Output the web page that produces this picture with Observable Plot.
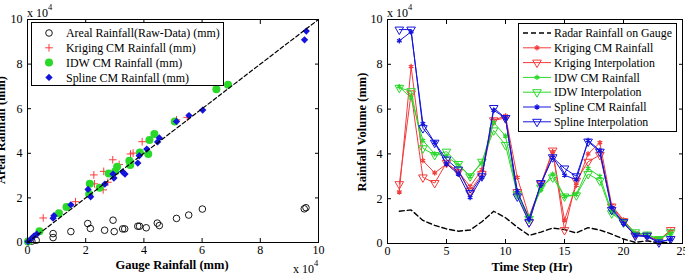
<!DOCTYPE html>
<html><head><meta charset="utf-8">
<script src="https://cdn.jsdelivr.net/npm/d3@7"></script>
<script src="https://cdn.jsdelivr.net/npm/@observablehq/plot@0.6"></script>
<style>
body{margin:0;background:#fff}
#wrap{position:relative;width:685px;height:273px;overflow:hidden;font-family:"Liberation Serif","Times New Roman",serif}
#wrap > svg{position:absolute;top:0;font-family:"Liberation Serif","Times New Roman",serif !important}
#wrap > svg text{font-family:"Liberation Serif","Times New Roman",serif}
</style></head>
<body><div id="wrap"></div>
<script>
// ---------- Left chart data (units of 1e4 mm) ----------
const gaugeTicks = [0, 2, 4, 6, 8, 10];
const arealTicks = [0, 2, 4, 6, 8, 10];
const diagonal = [0, 10];

const rawGauge = [0.02, 0.15, 0.3, 0.88, 0.88, 1.49, 2.07, 2.16, 2.65, 2.94, 2.98, 3.27, 3.34, 3.79, 3.85, 4.08, 4.46, 4.53, 5.12, 5.54, 6.01, 9.51, 9.57];
const rawAreal = [0.04, 0.06, 0.1, 0.22, 0.4, 0.49, 0.85, 0.63, 0.55, 1.0, 0.49, 0.61, 0.61, 0.73, 0.73, 0.66, 0.87, 0.76, 1.08, 1.23, 1.5, 1.51, 1.56];

const krigGauge = [0.02, 0.2, 0.54, 1.65, 2.28, 2.3, 2.6, 2.62, 2.76, 2.93, 3.15, 3.54, 3.63, 3.94, 5.12, 5.49];
const krigAreal = [0.03, 0.25, 1.1, 1.83, 3.03, 2.63, 2.36, 3.19, 2.7, 3.71, 3.5, 3.97, 4.01, 4.52, 5.5, 5.61];

const idwGauge = [0.02, 0.41, 1.08, 1.34, 2.12, 2.14, 2.48, 2.79, 3.02, 3.08, 3.5, 3.53, 3.86, 4.15, 4.19, 4.36, 5.06, 6.49, 6.89];
const idwAreal = [0.04, 0.5, 1.31, 1.59, 2.17, 2.63, 2.45, 3.09, 3.19, 3.4, 3.67, 3.47, 4.04, 3.97, 4.6, 4.86, 5.43, 6.87, 7.07];

const splGauge = [0.02, 0.14, 0.23, 0.32, 0.88, 0.91, 1.49, 2.08, 2.17, 2.66, 2.94, 2.97, 3.27, 3.35, 3.79, 3.84, 4.1, 4.47, 4.53, 5.12, 5.55, 6.02, 9.52, 9.58];
const splAreal = [0.04, 0.18, 0.3, 0.37, 1.09, 1.2, 1.69, 2.38, 2.05, 2.62, 3.07, 2.89, 3.17, 3.07, 3.56, 3.89, 4.19, 4.51, 4.69, 5.43, 5.69, 5.94, 9.09, 9.48];

// ---------- Right chart data (units of 1e4 mm) ----------
const hourTicks = [0, 5, 10, 15, 20, 25];
const volumeTicks = [0, 2, 4, 6, 8, 10];
const hours = [1,2,3,4,5,6,7,8,9,10,11,12,13,14,15,16,17,18,19,20,21,22,23,24];
const radar      = [1.44, 1.5, 1.03, 0.81, 0.65, 0.55, 0.6, 0.97, 1.44, 1.15, 0.73, 0.36, 0.51, 0.69, 0.62, 0.47, 0.71, 0.6, 0.42, 0.2, 0.05, 0.12, 0.03, 0.06];
const krigCM     = [2.3, 7.9, 3.7, 3.15, 3.55, 3.2, 2.55, 3.3, 5.5, 5.7, 2.95, 1.2, 2.6, 4.1, 1.05, 2.6, 4.0, 4.5, 1.7, 1.05, 0.45, 0.3, 0.15, 0.55];
const krigInterp = [2.65, 6.7, 2.95, 2.7, 3.6, 3.2, 2.35, 3.1, 5.5, 5.6, 2.3, 0.95, 2.65, 4.15, 0.6, 2.8, 3.65, 3.95, 1.65, 1.0, 0.4, 0.35, 0.15, 0.6];
const idwCM      = [7.0, 6.5, 4.6, 4.0, 3.9, 3.5, 3.0, 3.6, 5.4, 4.8, 2.2, 1.2, 2.4, 3.1, 2.1, 2.2, 3.35, 3.0, 1.4, 1.0, 0.45, 0.4, 0.2, 0.45];
const idwInterp  = [6.95, 6.8, 4.25, 3.95, 4.1, 3.55, 3.0, 3.65, 5.05, 4.4, 2.2, 1.1, 2.5, 2.95, 2.1, 2.15, 3.1, 2.8, 1.35, 0.95, 0.5, 0.4, 0.2, 0.5];
const splCM      = [9.05, 9.45, 5.35, 4.5, 3.55, 3.1, 2.05, 2.95, 5.95, 5.6, 2.35, 1.1, 2.65, 3.85, 3.05, 2.85, 4.6, 4.15, 1.6, 0.9, 0.35, 0.3, 0.05, 0.2];
const splInterp  = [9.55, 9.55, 5.15, 4.5, 3.75, 3.3, 2.25, 3.0, 6.05, 5.6, 2.1, 0.95, 2.7, 3.85, 3.35, 3.0, 4.55, 4.1, 1.5, 0.95, 0.35, 0.35, 0.05, 0.2];

const RED = "#f23c3c", GREEN = "#2ad82a", BLUE = "#1414dc";
const SERIF = "Liberation Serif, Times New Roman, serif";
const pts = (xs, ys) => xs.map((x, i) => ({x, y: ys[i]}));
const series = ys => hours.map((h, i) => ({x: h, y: ys[i]}));
const font = {fontFamily: SERIF, fontSize: "12px", background: "transparent", color: "black", overflow: "visible"};

function frameAxes(xt, yt) {
  const t = {fontFamily: SERIF, fontSize: 12, label: null};
  return [
    Plot.frame({stroke: "black", strokeWidth: 1}),
    Plot.axisX(xt, {anchor: "bottom", tickSize: -4, tickPadding: 7, ...t}),
    Plot.axisX(xt, {anchor: "top", tickSize: -4, tickFormat: () => "", ...t}),
    Plot.axisY(yt, {anchor: "left", tickSize: -4, tickPadding: 9, ...t}),
    Plot.axisY(yt, {anchor: "right", tickSize: -4, tickFormat: () => "", ...t})
  ];
}

const left = Plot.plot({
  width: 340, height: 273, marginLeft: 27, marginRight: 22, marginTop: 19, marginBottom: 31,
  style: font,
  x: {domain: [0, 10]}, y: {domain: [0, 10]},
  marks: [
    Plot.dot(pts(rawGauge, rawAreal), {x: "x", y: "y", r: 3.3, stroke: "black", strokeWidth: 0.9, fill: "none"}),
    Plot.dot(pts(krigGauge, krigAreal), {x: "x", y: "y", symbol: "plus", r: 2.6, stroke: "#ff3b3b", strokeWidth: 1}),
    Plot.dot(pts(idwGauge, idwAreal), {x: "x", y: "y", r: 4, fill: GREEN}),
    Plot.dot(pts(splGauge, splAreal), {x: "x", y: "y", symbol: "diamond2", r: 3.3, fill: BLUE}),
    Plot.line(pts(diagonal, diagonal), {x: "x", y: "y", stroke: "black", strokeWidth: 1.2, strokeDasharray: "4,2.5"}),
    ...frameAxes(gaugeTicks, arealTicks)
  ]
});
left.style.left = "0px";

const right = Plot.plot({
  width: 345, height: 273, marginLeft: 47, marginRight: 3, marginTop: 19, marginBottom: 30,
  style: font,
  x: {domain: [0, 25]}, y: {domain: [0, 10]},
  marks: [
    Plot.line(series(radar), {x: "x", y: "y", stroke: "black", strokeWidth: 1.4, strokeDasharray: "5,3", curve: "linear"}),
    Plot.line(series(krigCM), {x: "x", y: "y", stroke: RED, strokeWidth: 1}),
    Plot.dot(series(krigCM), {x: "x", y: "y", symbol: "asterisk", r: 2.5, stroke: RED, strokeWidth: 1.3}),
    Plot.line(series(krigInterp), {x: "x", y: "y", stroke: RED, strokeWidth: 1}),
    Plot.dot(series(krigInterp), {x: "x", y: "y", symbol: "triangle", rotate: 180, r: 3.2, stroke: RED, fill: "none", strokeWidth: 1}),
    Plot.line(series(idwCM), {x: "x", y: "y", stroke: GREEN, strokeWidth: 1}),
    Plot.dot(series(idwCM), {x: "x", y: "y", symbol: "asterisk", r: 2.5, stroke: GREEN, strokeWidth: 1.3}),
    Plot.line(series(idwInterp), {x: "x", y: "y", stroke: GREEN, strokeWidth: 1}),
    Plot.dot(series(idwInterp), {x: "x", y: "y", symbol: "triangle", rotate: 180, r: 3.2, stroke: GREEN, fill: "none", strokeWidth: 1}),
    Plot.line(series(splCM), {x: "x", y: "y", stroke: BLUE, strokeWidth: 1}),
    Plot.dot(series(splCM), {x: "x", y: "y", symbol: "asterisk", r: 2.5, stroke: BLUE, strokeWidth: 1.3}),
    Plot.line(series(splInterp), {x: "x", y: "y", stroke: BLUE, strokeWidth: 1}),
    Plot.dot(series(splInterp), {x: "x", y: "y", symbol: "triangle", rotate: 180, r: 3.2, stroke: BLUE, fill: "none", strokeWidth: 1}),
    ...frameAxes(hourTicks, volumeTicks)
  ]
});
right.style.left = "340px";

const wrap = document.getElementById("wrap");
wrap.appendChild(left);
wrap.appendChild(right);

// ---------- Overlay: legends, axis titles, exponents ----------
const ov = d3.select(wrap).append("svg")
  .attr("width", 685).attr("height", 273)
  .style("left", "0px").style("pointer-events", "none")
  .attr("font-family", SERIF)
  .attr("font-size", 12.5);

function exponent(x, y) {
  const t = ov.append("text").attr("x", x).attr("y", y).attr("font-size", 12);
  t.append("tspan").text("x 10");
  t.append("tspan").attr("dy", -7).attr("font-size", 8.5).text("4");
}
exponent(27, 17);
exponent(387, 17);
exponent(293, 273);

function title(text, x, y, rot) {
  ov.append("text").attr("transform", `translate(${x},${y}) rotate(${rot})`)
    .attr("text-anchor", "middle").attr("dy", "0.35em")
    .attr("font-weight", "bold").text(text);
}
title("Gauge Rainfall (mm)", 172, 265, 0);
title("Time Step (Hr)", 532, 267, 0);
title("Rainfall Volume (mm)", 362, 132, -90);
title("Areal Rainfall (mm)", 1, 130, -90);

const sym = (type, r) => d3.symbol(type, Math.PI * r * r)();

// font size so that the longest label spans the given width
function fitSize(label, width) {
  const t = ov.append("text").attr("font-size", 20).text(label);
  const w = t.node().getComputedTextLength();
  t.remove();
  return Math.min(14, 20 * width / w);
}

// left legend
const leftItems = [
  {label: "Areal Rainfall(Raw-Data) (mm)", draw: g => g.append("circle").attr("r", 3.3).attr("fill", "none").attr("stroke", "black").attr("stroke-width", 0.9)},
  {label: "Kriging CM Rainfall (mm)", draw: g => g.append("path").attr("d", sym(d3.symbolPlus, 2.6)).attr("fill", "none").attr("stroke", "#ff3b3b")},
  {label: "IDW CM Rainfall (mm)", draw: g => g.append("circle").attr("r", 4).attr("fill", GREEN)},
  {label: "Spline CM Rainfall (mm)", draw: g => g.append("path").attr("d", sym(d3.symbolDiamond2, 3.3)).attr("fill", BLUE)}
];
const leftFs = fitSize(leftItems[0].label, 154);
ov.append("rect").attr("x", 31.5).attr("y", 22.5).attr("width", 192).attr("height", 63)
  .attr("fill", "white").attr("stroke", "black");
leftItems.forEach((it, i) => {
  const y = 33 + i * 14.8;
  it.draw(ov.append("g").attr("transform", `translate(49,${y})`));
  ov.append("text").attr("x", 66).attr("y", y).attr("dy", "0.35em").attr("font-size", leftFs).text(it.label);
});

// right legend
const rightItems = [
  {label: "Radar Rainfall on Gauge", color: "black", dash: "5,3", mark: null},
  {label: "Kriging CM Rainfall", color: RED, mark: "ast"},
  {label: "Kriging Interpolation", color: RED, mark: "tri"},
  {label: "IDW CM Rainfall", color: GREEN, mark: "ast"},
  {label: "IDW Interpolation", color: GREEN, mark: "tri"},
  {label: "Spline CM Rainfall", color: BLUE, mark: "ast"},
  {label: "Spline Interpolation", color: BLUE, mark: "tri"}
];
const rightFs = fitSize(rightItems[0].label, 118);
ov.append("rect").attr("x", 518.5).attr("y", 23.5).attr("width", 158).attr("height", 108)
  .attr("fill", "white").attr("stroke", "black");
rightItems.forEach((it, i) => {
  const y = 33 + i * 14.8;
  ov.append("line").attr("x1", 523).attr("x2", 551).attr("y1", y).attr("y2", y)
    .attr("stroke", it.color).attr("stroke-width", it.dash ? 1.4 : 1)
    .attr("stroke-dasharray", it.dash || null);
  if (it.mark === "ast") {
    ov.append("path").attr("transform", `translate(537,${y})`).attr("d", sym(d3.symbolAsterisk, 2.5))
      .attr("fill", "none").attr("stroke", it.color).attr("stroke-width", 1.3);
  } else if (it.mark === "tri") {
    ov.append("path").attr("transform", `translate(537,${y}) rotate(180)`).attr("d", sym(d3.symbolTriangle, 3.2))
      .attr("fill", "none").attr("stroke", it.color);
  }
  ov.append("text").attr("x", 554).attr("y", y).attr("dy", "0.35em").attr("font-size", rightFs).text(it.label);
});
</script>
</body></html>
